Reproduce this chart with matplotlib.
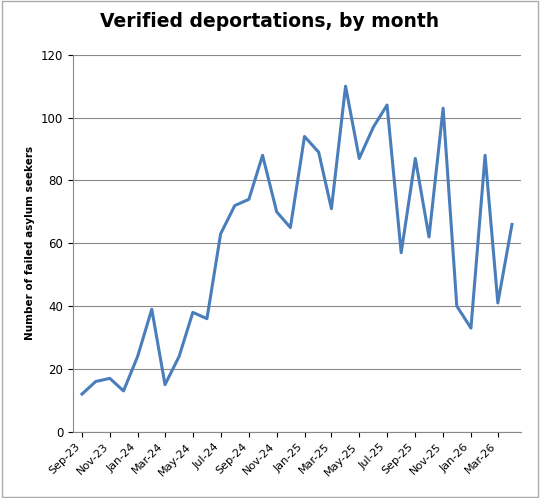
import numpy as np
import matplotlib.pyplot as plt
import matplotlib.dates as mdates
import pandas as pd

months = pd.date_range('2023-09-01', periods=32, freq='MS')
deportations = [12, 16, 17, 13, 24, 39, 15, 24, 38, 36, 63, 72, 74, 88, 70, 65,
                94, 89, 71, 110, 87, 97, 104, 57, 87, 62, 103, 40, 33, 88, 41, 66]

fig = plt.figure(figsize=(5.4, 4.98), dpi=100)
ax = fig.add_axes([0.135, 0.133, 0.83, 0.757])
ax.plot(months, deportations, color='#4a7ebb', linewidth=2.2)

ax.set_ylim(0, 120)
ax.set_yticks(range(0, 121, 20))
ax.set_xlim(months[0] - pd.Timedelta(days=20), months[-1] + pd.Timedelta(days=20))
ax.xaxis.set_major_locator(mdates.MonthLocator(bymonth=[1, 3, 5, 7, 9, 11]))
ax.xaxis.set_major_formatter(mdates.DateFormatter('%b-%y'))
plt.setp(ax.get_xticklabels(), rotation=45, ha='right', fontsize=8)
ax.tick_params(axis='y', labelsize=8.5)
ax.grid(axis='y', color='#888888', linewidth=0.8)
ax.set_axisbelow(True)
for s in ['top', 'right']:
    ax.spines[s].set_visible(False)
ax.spines['left'].set_color('#888888')
ax.spines['bottom'].set_color('#888888')

ax.set_ylabel('Number of failed asylum seekers', fontsize=7.5, fontweight='bold')
fig.suptitle('Verified deportations, by month', fontsize=13.5, fontweight='bold', y=0.975)

# thin grey border around the whole chart
fig.patches.append(plt.Rectangle((0.003, 0.003), 0.994, 0.994, transform=fig.transFigure,
                                 fill=False, edgecolor='#aaaaaa', linewidth=1))

fig.savefig('out.png', dpi=100)
